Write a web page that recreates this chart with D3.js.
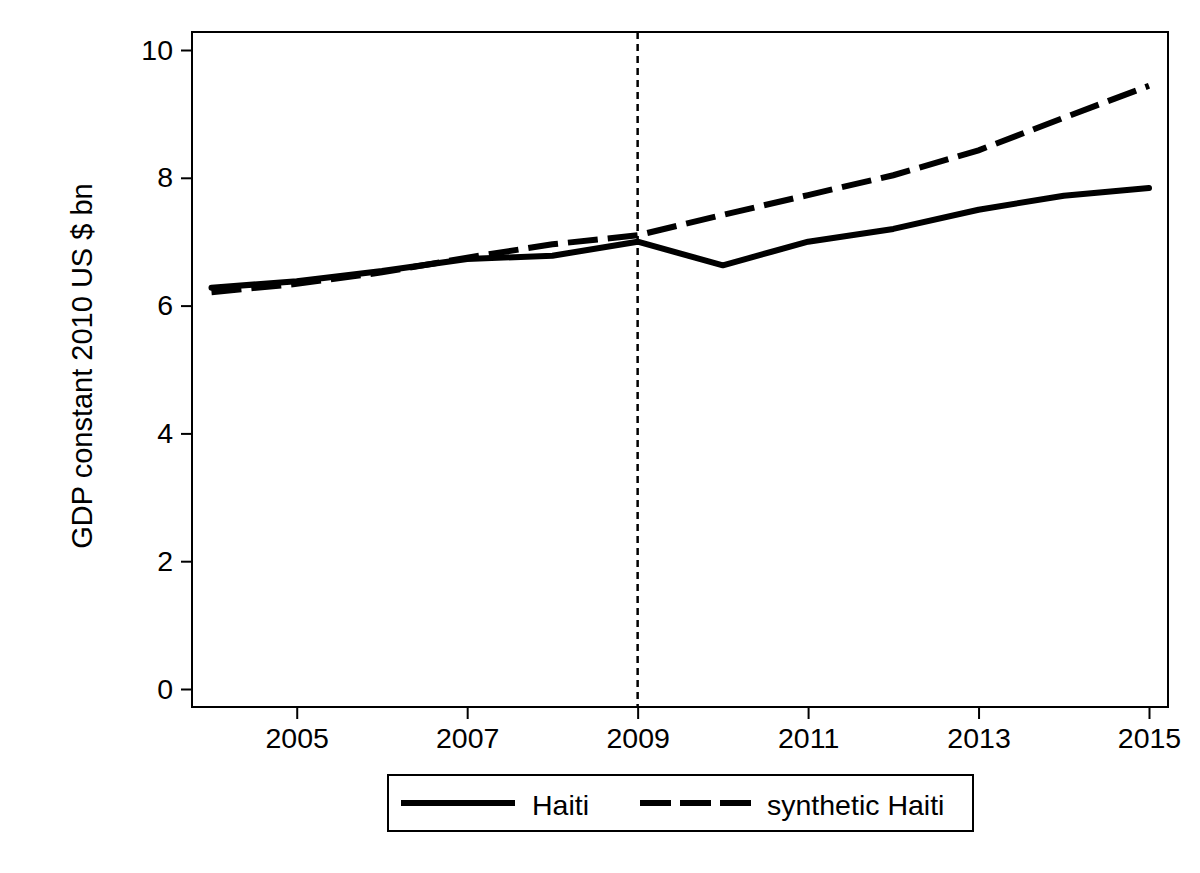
<!DOCTYPE html>
<html>
<head>
<meta charset="utf-8">
<script src="https://cdn.jsdelivr.net/npm/d3@7"></script>
<style>
html, body { margin: 0; padding: 0; background: #fff; }
svg { display: block; font-family: "Liberation Sans", Arial, sans-serif; }
</style>
</head>
<body>
<svg id="chart" width="1200" height="873"></svg>
<script>
const years = [2004, 2005, 2006, 2007, 2008, 2009, 2010, 2011, 2012, 2013, 2014, 2015];
const haiti = [6.28, 6.38, 6.54, 6.73, 6.78, 7.00, 6.63, 7.00, 7.20, 7.50, 7.72, 7.84];
const synthetic = [6.21, 6.34, 6.52, 6.75, 6.96, 7.10, 7.42, 7.73, 8.04, 8.43, 8.94, 9.44];
const xTicks = [2005, 2007, 2009, 2011, 2013, 2015];
const yTicks = [0, 2, 4, 6, 8, 10];
const treatmentYear = 2009;
const seriesNames = ["Haiti", "synthetic Haiti"];
const yTitle = "GDP constant 2010 US $ bn";

const FS = 28.5;
const svg = d3.select("#chart");
const box = { left: 192, right: 1168, top: 32, bottom: 707 };

const x = d3.scaleLinear().domain([2004, 2015]).range([211.5, 1149]);
const y = d3.scaleLinear().domain([0, 10]).range([689, 50]);

// plot region frame
svg.append("rect")
  .attr("x", box.left).attr("y", box.top)
  .attr("width", box.right - box.left).attr("height", box.bottom - box.top)
  .attr("fill", "none").attr("stroke", "#000").attr("stroke-width", 2);

// y axis
const yAxis = svg.append("g").attr("transform", `translate(${box.left},0)`)
  .call(d3.axisLeft(y).tickValues(yTicks).tickFormat(d3.format("d")).tickSize(11).tickPadding(8));
yAxis.select(".domain").remove();
yAxis.selectAll(".tick line").attr("stroke", "#000").attr("stroke-width", 2);
yAxis.selectAll(".tick text").attr("font-size", FS).attr("fill", "#000")
  .attr("font-family", "'Liberation Sans', Arial, sans-serif");

// x axis
const xAxis = svg.append("g").attr("transform", `translate(0,${box.bottom})`)
  .call(d3.axisBottom(x).tickValues(xTicks).tickFormat(d3.format("d")).tickSize(12).tickPadding(9));
xAxis.select(".domain").remove();
xAxis.selectAll(".tick line").attr("stroke", "#000").attr("stroke-width", 2);
xAxis.selectAll(".tick text").attr("font-size", FS).attr("fill", "#000")
  .attr("font-family", "'Liberation Sans', Arial, sans-serif");

// y title
svg.append("text")
  .attr("transform", `translate(92,366) rotate(-90)`)
  .attr("text-anchor", "middle")
  .attr("font-size", 29)
  .attr("fill", "#000")
  .text(yTitle);

// treatment line
svg.append("line")
  .attr("x1", x(treatmentYear)).attr("x2", x(treatmentYear))
  .attr("y1", box.top).attr("y2", box.bottom)
  .attr("stroke", "#000").attr("stroke-width", 2.5)
  .attr("stroke-dasharray", "7,5");

const line = d3.line().x((d, i) => x(years[i])).y(d => y(d));

svg.append("path").datum(synthetic)
  .attr("d", line).attr("fill", "none").attr("stroke", "#000")
  .attr("stroke-width", 6).attr("stroke-dasharray", "30,10");

svg.append("path").datum(haiti)
  .attr("d", line).attr("fill", "none").attr("stroke", "#000")
  .attr("stroke-width", 6).attr("stroke-linejoin", "round").attr("stroke-linecap", "round");

// legend
const lg = svg.append("g");
lg.append("rect").attr("x", 388).attr("y", 775).attr("width", 585).attr("height", 56)
  .attr("fill", "#fff").attr("stroke", "#000").attr("stroke-width", 2);
lg.append("line").attr("x1", 401).attr("x2", 515).attr("y1", 803).attr("y2", 803)
  .attr("stroke", "#000").attr("stroke-width", 6);
lg.append("text").attr("x", 532).attr("y", 815).attr("font-size", FS).attr("fill", "#000").text(seriesNames[0]);
lg.append("line").attr("x1", 640).attr("x2", 751).attr("y1", 803).attr("y2", 803)
  .attr("stroke", "#000").attr("stroke-width", 6).attr("stroke-dasharray", "31,9");
lg.append("text").attr("x", 767).attr("y", 815).attr("font-size", FS).attr("fill", "#000").text(seriesNames[1]);
</script>
</body>
</html>
